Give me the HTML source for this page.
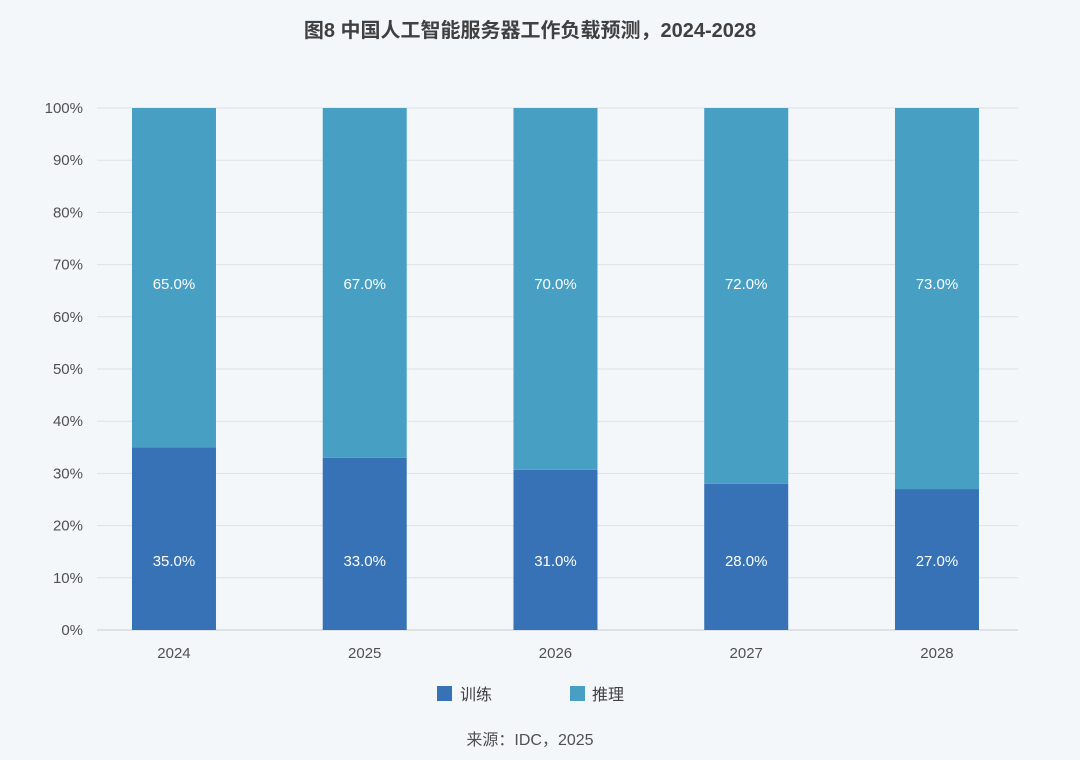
<!DOCTYPE html>
<html><head><meta charset="utf-8"><style>
body{margin:0;background:#f4f7fa;width:1080px;height:755px;overflow:hidden;font-family:"Liberation Sans","Noto Sans CJK SC",sans-serif;}
</style></head><body>
<svg id="c" width="1080" height="755" xmlns="http://www.w3.org/2000/svg">
<rect width="1080" height="755" fill="#f4f7fa"/>
<text x="530" y="37" text-anchor="middle" font-size="20" font-weight="bold" fill="#404040" font-family="Liberation Sans,Noto Sans CJK SC,sans-serif">图8 中国人工智能服务器工作负载预测，2024-2028</text>
<g id="grid"></g><g id="bars"></g><g id="labels"></g>
<g>
<rect x="437" y="686" width="15" height="15" fill="#3672b5"/>
<text x="460" y="700" font-size="16" fill="#404040" font-family="Noto Sans CJK SC,sans-serif">训练</text>
<rect x="570" y="686" width="15" height="15" fill="#479fc4"/>
<text x="592" y="700" font-size="16" fill="#404040" font-family="Noto Sans CJK SC,sans-serif">推理</text>
</g>
<text x="530" y="745" text-anchor="middle" font-size="16" fill="#505050" font-family="Liberation Sans,Noto Sans CJK SC,sans-serif">来源：IDC，2025</text>
</svg>
<script>
const categories=["2024","2025","2026","2027","2028"];
const training=[35,33,31,28,27];
const inference=[65,67,70,72,73];
const yTicks=[0,10,20,30,40,50,60,70,80,90,100];
const NS="http://www.w3.org/2000/svg";
const x0=78.6,band=190.75,y0=630,y1=108,bw=84;
const xc=i=>x0+band*(i+0.5);
const yp=v=>y0-(y0-y1)*v/100;
function mk(t,a,p){const e=document.createElementNS(NS,t);for(const k in a)e.setAttribute(k,a[k]);document.getElementById(p).appendChild(e);return e;}
yTicks.forEach(v=>{
 const l=mk('line',{x1:97,x2:1018,y1:yp(v),y2:yp(v),stroke:v===0?'#c8ccd0':'#dde1e5','stroke-width':1},'grid');
 
 
 const t=mk('text',{x:83,y:yp(v)+5,'text-anchor':'end','font-size':15,fill:'#505050'},'grid');
 t.textContent=v+'%';
 
 
});
categories.forEach((c,i)=>{
 const tot=training[i]+inference[i];
 const tp=training[i]/tot*100;
 const b1=mk('rect',{x:xc(i)-bw/2,y:yp(tp),width:bw,height:y0-yp(tp),fill:'#3672b5'},'bars');
 
 
 const b2=mk('rect',{x:xc(i)-bw/2,y:yp(100),width:bw,height:yp(tp)-yp(100),fill:'#479fc4'},'bars');
 
 
 const l1=mk('text',{x:xc(i),y:566,'text-anchor':'middle','font-size':15,fill:'#ffffff'},'labels');
 l1.textContent=training[i].toFixed(1)+'%';
 
 
 const l2=mk('text',{x:xc(i),y:289,'text-anchor':'middle','font-size':15,fill:'#ffffff'},'labels');
 l2.textContent=inference[i].toFixed(1)+'%';
 
 
 const xt=mk('text',{x:xc(i),y:658,'text-anchor':'middle','font-size':15,fill:'#505050'},'labels');
 xt.textContent=c;
 
 
});
</script>
</body></html>
